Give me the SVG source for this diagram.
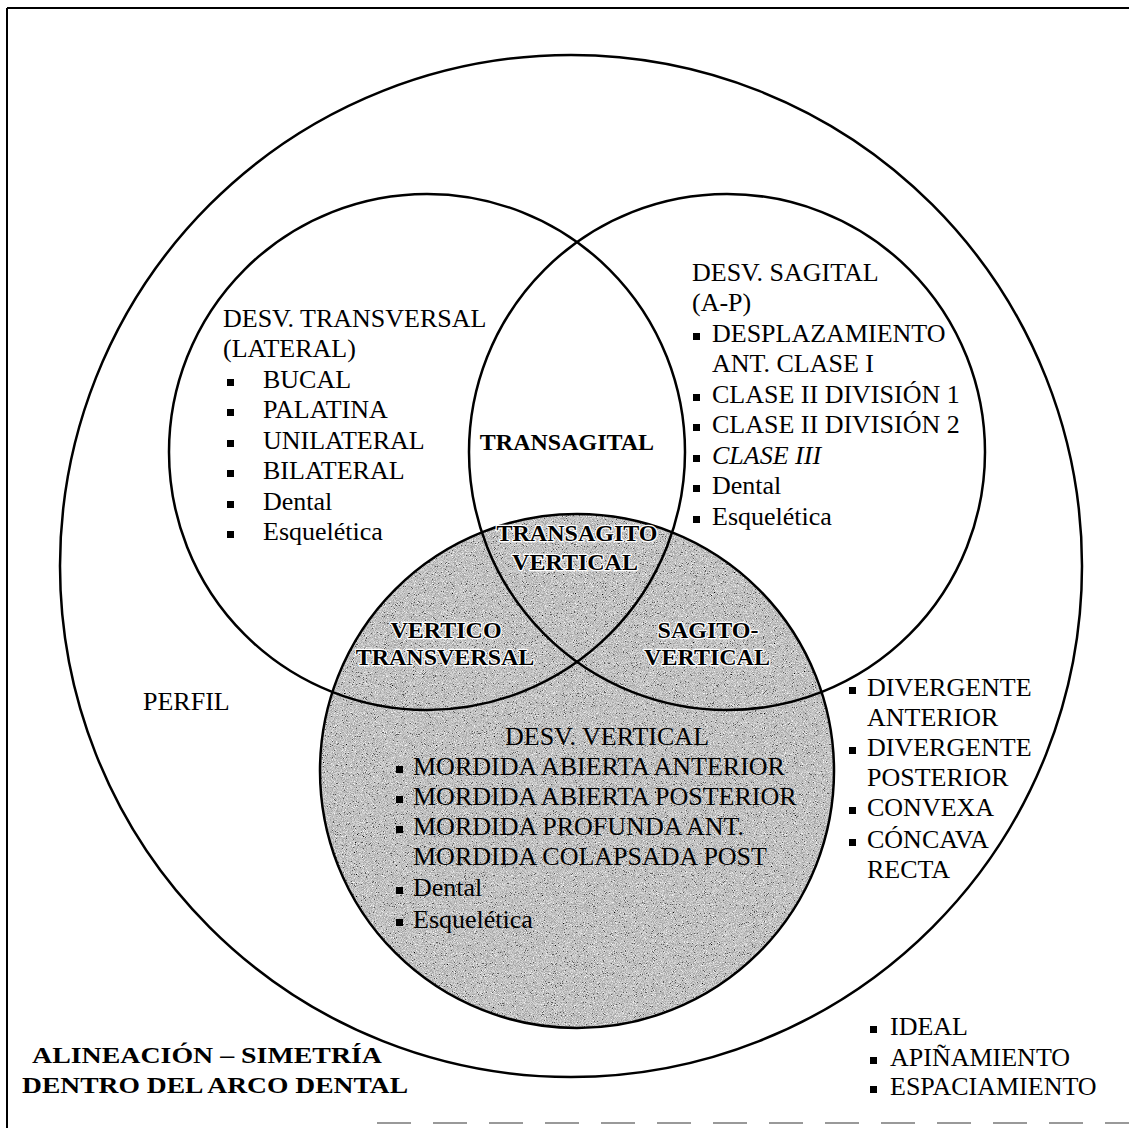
<svg xmlns="http://www.w3.org/2000/svg" width="1129" height="1128" viewBox="0 0 1129 1128">
<defs>
<style>
.t{font-family:"Liberation Serif","Times New Roman",serif;font-size:26px;fill:#000}
.b{font-family:"Liberation Serif","Times New Roman",serif;font-size:24px;font-weight:bold;fill:#000}
.h{stroke:#fff;stroke-width:2.5px;paint-order:stroke;stroke-linejoin:round}
.c{fill:none;stroke:#000;stroke-width:2.5}
</style>
<filter id="grain" x="0" y="0" width="1" height="1" color-interpolation-filters="sRGB">
<feTurbulence type="fractalNoise" baseFrequency="1.1" numOctaves="2" seed="7" result="n"/>
<feColorMatrix in="n" type="matrix" values="1 0 0 0 0  1 0 0 0 0  1 0 0 0 0  0 0 0 0 1"/>
<feComponentTransfer>
<feFuncR type="discrete" tableValues="0 0.35 0.66 0.76 0.84 0.95 1"/>
<feFuncG type="discrete" tableValues="0 0.35 0.66 0.76 0.84 0.95 1"/>
<feFuncB type="discrete" tableValues="0 0.35 0.66 0.76 0.84 0.95 1"/>
</feComponentTransfer>
</filter>
<clipPath id="vclip"><circle cx="577" cy="771" r="257"/></clipPath>
</defs>
<rect width="1129" height="1128" fill="#fff"/>
<g id="frame">
<line x1="7" y1="8" x2="1129" y2="8" stroke="#000" stroke-width="2"/>
<line x1="7" y1="8" x2="7" y2="1128" stroke="#000" stroke-width="2"/>
<line x1="377" y1="1123" x2="1129" y2="1123" stroke="#999" stroke-width="2" stroke-dasharray="34 22"/>
</g>
<g id="connectors"></g>
<g id="perfil-circle">
<circle class="c" cx="571" cy="566" r="511"/>
<text class="t" x="143" y="710">PERFIL</text>
</g>
<g id="vertical-fill" clip-path="url(#vclip)">
<rect x="318" y="512" width="518" height="518" fill="#b4b4b4"/>
<rect x="318" y="512" width="518" height="518" filter="url(#grain)"/>
</g>
<g id="outlines">
<circle class="c" cx="427" cy="452" r="258"/>
<circle class="c" cx="727" cy="452" r="258"/>
<circle class="c" cx="577" cy="771" r="257"/>
</g>
<g id="transversal">
<text class="t" x="223" y="327">DESV. TRANSVERSAL</text>
<text class="t" x="223" y="357">(LATERAL)</text>
<rect x="227" y="379" width="7" height="7"/><text class="t" x="263" y="388">BUCAL</text>
<rect x="227" y="409" width="7" height="7"/><text class="t" x="263" y="418">PALATINA</text>
<rect x="227" y="440" width="7" height="7"/><text class="t" x="263" y="449">UNILATERAL</text>
<rect x="227" y="470" width="7" height="7"/><text class="t" x="263" y="479">BILATERAL</text>
<rect x="227" y="501" width="7" height="7"/><text class="t" x="263" y="510">Dental</text>
<rect x="227" y="531" width="7" height="7"/><text class="t" x="263" y="540">Esquelética</text>
</g>
<g id="sagital">
<text class="t" x="692" y="281">DESV. SAGITAL</text>
<text class="t" x="692" y="311">(A-P)</text>
<rect x="693" y="333" width="7" height="7"/><text class="t" x="712" y="342">DESPLAZAMIENTO</text>
<text class="t" x="712" y="372">ANT. CLASE I</text>
<rect x="693" y="394" width="7" height="7"/><text class="t" x="712" y="403">CLASE II DIVISIÓN 1</text>
<rect x="693" y="424" width="7" height="7"/><text class="t" x="712" y="433">CLASE II DIVISIÓN 2</text>
<rect x="693" y="455" width="7" height="7"/><text class="t" x="712" y="464" font-style="italic">CLASE III</text>
<rect x="693" y="485" width="7" height="7"/><text class="t" x="712" y="494">Dental</text>
<rect x="693" y="516" width="7" height="7"/><text class="t" x="712" y="525">Esquelética</text>
</g>
<g id="transagital">
<text class="b" x="567" y="450" text-anchor="middle" font-size="26">TRANSAGITAL</text>
</g>
<g id="transagito-vertical">
<text class="b h" x="577" y="541" text-anchor="middle">TRANSAGITO</text>
<text class="b h" x="575" y="570" text-anchor="middle">VERTICAL</text>
</g>
<g id="vertico-transversal">
<text class="b h" x="446" y="638" text-anchor="middle">VERTICO</text>
<text class="b h" x="445" y="665" text-anchor="middle">TRANSVERSAL</text>
</g>
<g id="sagito-vertical">
<text class="b h" x="708" y="638" text-anchor="middle">SAGITO-</text>
<text class="b h" x="707" y="665" text-anchor="middle">VERTICAL</text>
</g>
<g id="desv-vertical">
<text class="t" x="607" y="745" text-anchor="middle">DESV. VERTICAL</text>
<rect x="396" y="766" width="7" height="7"/><text class="t" x="413" y="775">MORDIDA ABIERTA ANTERIOR</text>
<rect x="396" y="796" width="7" height="7"/><text class="t" x="413" y="805">MORDIDA ABIERTA POSTERIOR</text>
<rect x="396" y="826" width="7" height="7"/><text class="t" x="413" y="835">MORDIDA PROFUNDA ANT.</text>
<text class="t" x="413" y="865">MORDIDA COLAPSADA POST</text>
<rect x="396" y="887" width="7" height="7"/><text class="t" x="413" y="896">Dental</text>
<rect x="396" y="919" width="7" height="7"/><text class="t" x="413" y="928">Esquelética</text>
</g>
<g id="perfil-list">
<rect x="849" y="687" width="7" height="7"/><text class="t" x="867" y="696">DIVERGENTE</text>
<text class="t" x="867" y="726">ANTERIOR</text>
<rect x="849" y="747" width="7" height="7"/><text class="t" x="867" y="756">DIVERGENTE</text>
<text class="t" x="867" y="786">POSTERIOR</text>
<rect x="849" y="807" width="7" height="7"/><text class="t" x="867" y="816">CONVEXA</text>
<rect x="849" y="839" width="7" height="7"/><text class="t" x="867" y="848">CÓNCAVA</text>
<text class="t" x="867" y="878">RECTA</text>
</g>
<g id="arco-list">
<rect x="870" y="1026" width="7" height="7"/><text class="t" x="890" y="1035">IDEAL</text>
<rect x="870" y="1057" width="7" height="7"/><text class="t" x="890" y="1066">APIÑAMIENTO</text>
<rect x="870" y="1086" width="7" height="7"/><text class="t" x="890" y="1095">ESPACIAMIENTO</text>
</g>
<g id="alineacion">
<text class="b" x="207" y="1063" text-anchor="middle" font-size="25" textLength="350" lengthAdjust="spacingAndGlyphs">ALINEACIÓN – SIMETRÍA</text>
<text class="b" x="215" y="1093" text-anchor="middle" font-size="25" textLength="386" lengthAdjust="spacingAndGlyphs">DENTRO DEL ARCO DENTAL</text>
</g>
</svg>
